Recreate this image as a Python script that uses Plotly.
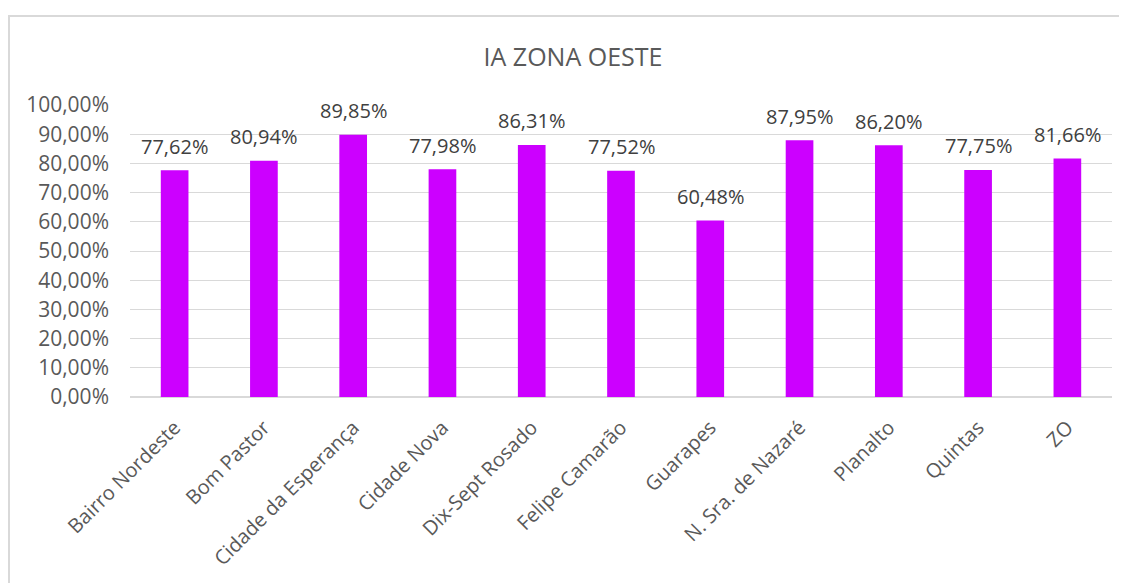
import plotly.graph_objects as go

# Data
bairros = ["Bairro Nordeste", "Bom Pastor", "Cidade da Esperança", "Cidade Nova",
           "Dix-Sept Rosado", "Felipe Camarão", "Guarapes", "N. Sra. de Nazaré",
           "Planalto", "Quintas", "ZO"]
ia_values = [0.7762, 0.8094, 0.8985, 0.7798, 0.8631, 0.7752, 0.6048, 0.8795,
             0.8620, 0.7775, 0.8166]
y_ticks = [0, 0.1, 0.2, 0.3, 0.4, 0.5, 0.6, 0.7, 0.8, 0.9, 1.0]

FONT = "Open Sans"
BAR_COLOR = "rgb(204,0,255)"

# the page body adds an 8px margin, so the figure is a bit smaller
W, H = 1119, 575

fig = go.Figure()

fig.add_trace(go.Bar(
    x=bairros,
    y=ia_values,
    marker=dict(color=BAR_COLOR, line=dict(width=0)),
    showlegend=False,
    hoverinfo="x+y",
))

# Data labels a bit above the bars, like Excel does
for name, val in zip(bairros, ia_values):
    fig.add_annotation(
        x=name, y=val,
        text=f"{val * 100:.2f}%".replace(".", ","),
        showarrow=False,
        yanchor="middle",
        yshift=24,
        font=dict(family=FONT, size=20, color="#404040"),
    )

# Chart border (outer frame)
fig.add_shape(
    type="rect", xref="paper", yref="paper",
    x0=-0.1232, x1=1.2, y0=-1.0, y1=1.3048,
    line=dict(color="#d9d9d9", width=2),
    fillcolor="rgba(0,0,0,0)",
    layer="below",
)

fig.update_layout(
    width=W,
    height=H,
    margin=dict(l=122, r=15, t=97, b=186),
    paper_bgcolor="white",
    plot_bgcolor="white",
    separators=", ",
    bargap=0.69,
    title=dict(
        text="IA ZONA OESTE",
        x=565 / W, xanchor="center",
        y=1 - 49 / H, yanchor="middle",
        font=dict(family=FONT, size=25, color="#595959"),
    ),
    xaxis=dict(
        tickangle=-45,
        tickfont=dict(family=FONT, size=20, color="#595959"),
        showgrid=False,
        showline=False,
        zeroline=False,
        ticks="",
        ticklabelstandoff=14,
    ),
    yaxis=dict(
        range=[0, 1.0],
        tickvals=y_ticks,
        tickformat=".2%",
        tickfont=dict(family=FONT, size=21, color="#595959"),
        showgrid=True,
        gridcolor="#d9d9d9",
        gridwidth=1,
        zeroline=True,
        zerolinecolor="#d9d9d9",
        zerolinewidth=2,
        showline=False,
        ticklabelstandoff=20,
        fixedrange=True,
    ),
)

fig.write_html("out.html")
